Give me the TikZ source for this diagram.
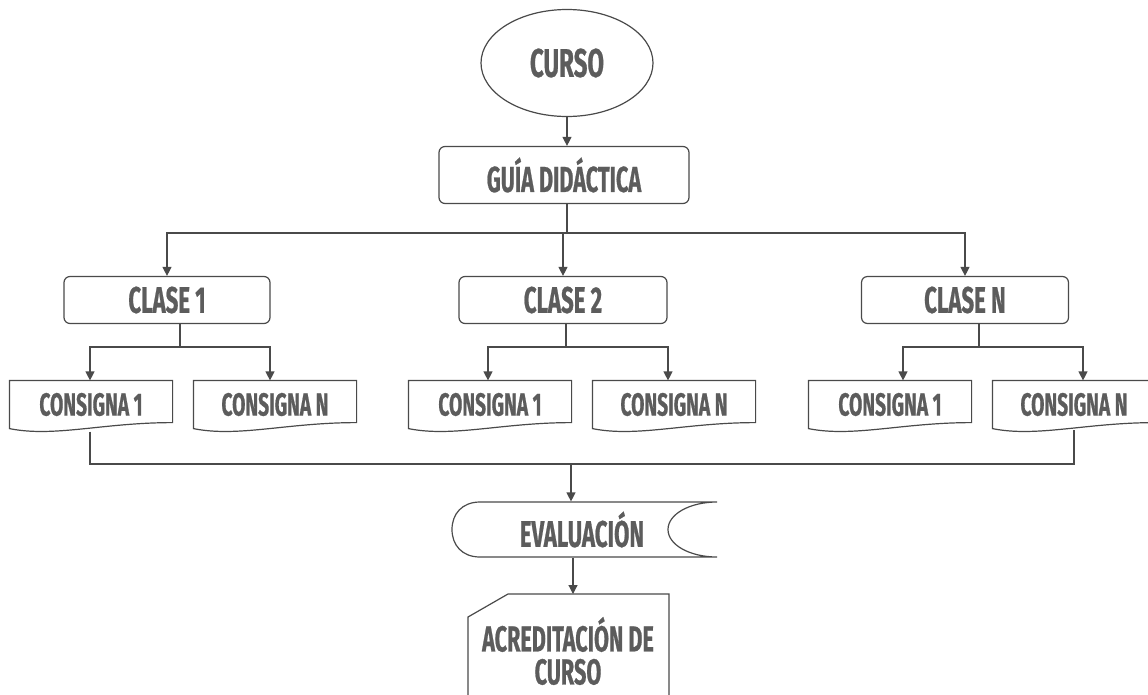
\documentclass[tikz,border=0pt]{standalone}
\usepackage{fontspec}
\newfontfamily\bebas{Fira Sans}[FakeStretch=0.6,FakeBold=0.6]
\usetikzlibrary{shapes.geometric,arrows.meta,calc}
\definecolor{txt}{HTML}{5C5C5C}
\definecolor{ln}{HTML}{4A4A4A}
\begin{document}
\begin{tikzpicture}[x=1pt,y=-1pt,
  line width=1.2pt,
  every node/.style={text=txt,font=\bebas\bfseries},
  conn/.style={draw=ln,line width=1.2pt},
  arr/.style={conn,-{Triangle[length=9pt,width=9pt]}},
  box/.style={draw=ln,rounded corners=6pt,inner sep=0pt},
  doc/.style={inner sep=0pt,minimum width=162pt,minimum height=47pt,font=\bebas\bfseries\fontsize{32}{32}\selectfont},
  outl/.style={draw=ln,line width=1.2pt}]
\clip (0,0) rectangle (1148,694);
\fill[white] (0,0) rectangle (1148,694);
% top
\node[ellipse,draw=ln,minimum width=172pt,minimum height=107pt,inner sep=0pt,font=\bebas\bfseries\fontsize{40}{40}\selectfont] (curso) at (567,63) {CURSO};
\node[box,minimum width=250pt,minimum height=57pt,font=\bebas\bfseries\fontsize{36}{36}\selectfont] (guia) at (564,175) {GUÍA DIDÁCTICA};
% classes
\node[box,minimum width=206pt,minimum height=47pt,font=\bebas\bfseries\fontsize{37}{37}\selectfont] (c1) at (167,300) {CLASE 1};
\node[box,minimum width=208pt,minimum height=47pt,font=\bebas\bfseries\fontsize{37}{37}\selectfont] (c2) at (563,300) {CLASE 2};
\node[box,minimum width=207pt,minimum height=47pt,font=\bebas\bfseries\fontsize{37}{37}\selectfont] (cN) at (965,300) {CLASE N};
% consignas (document shapes)
\node[doc] (k11) at (91,404.5) {CONSIGNA 1};
\node[doc] (k1N) at (275,404.5) {CONSIGNA N};
\node[doc] (k21) at (490,404.5) {CONSIGNA 1};
\node[doc] (k2N) at (674,404.5) {CONSIGNA N};
\node[doc] (k31) at (890,404.5) {CONSIGNA 1};
\node[doc] (k3N) at (1074,404.5) {CONSIGNA N};
\foreach \n in {k11,k1N,k21,k2N,k31,k3N}{
  \draw[outl] (\n.north west) -- (\n.north east) -- ($(\n.south east)+(0,-6)$)
    .. controls ($(\n.south east)+(-70,-6)$) and ($(\n.south west)+(45,9)$) .. (\n.south west) -- cycle;
}
% evaluacion
\node[inner sep=0pt,minimum width=265pt,minimum height=55pt,font=\bebas\bfseries\fontsize{37}{37}\selectfont] (eval) at (582,529.5) {EVALUACIÓN};
\draw[outl] (480,502) -- (717,502)
  .. controls (690,502) and (668,514) .. (668,529.5)
  .. controls (668,545) and (690,557) .. (717,557)
  -- (480,557)
  .. controls (462,557) and (452,545) .. (452,529.5)
  .. controls (452,514) and (462,502) .. (480,502) -- cycle;
% acreditacion
\node[inner sep=0pt,align=center,font=\bebas\bfseries\fontsize{36}{33}\selectfont] (acred) at (568,651) {ACREDITACIÓN DE\\CURSO};
\draw[outl] (468,700) -- (468,617) -- (508,594) -- (669,594) -- (669,700);
\coordinate (acredtop) at (573,594);
% connectors
\coordinate (j0) at (567,233);
\draw[arr] (curso.south -| j0) -- (guia.north -| j0);
\draw[conn] (guia.south -| j0) -- (j0);
\draw[arr] (j0) -| (c1.north);
\draw[arr] (j0) -| (c2.north);
\draw[arr] (j0) -| (cN.north);
% class 1
\coordinate (j1) at (180,347);
\draw[conn] (c1.south -| j1) -- (j1);
\draw[arr] (j1) -| ($(k11.north)+(-1,0)$);
\draw[arr] (j1) -| ($(k1N.north)+(-5,0)$);
% class 2
\coordinate (j2) at (566,347);
\draw[conn] (c2.south -| j2) -- (j2);
\draw[arr] (j2) -| ($(k21.north)+(-2,0)$);
\draw[arr] (j2) -| ($(k2N.north)+(-6,0)$);
% class N
\coordinate (j3) at (979,347);
\draw[conn] (cN.south -| j3) -- (j3);
\draw[arr] (j3) -| ($(k31.north)+(13,0)$);
\draw[arr] (j3) -| ($(k3N.north)+(9,0)$);
% merge
\coordinate (jb) at (571,464);
\draw[conn] ($(k11.south)+(-1,3)$) |- (jb) -| ($(k3N.south)+(0,1)$);
\draw[arr] (jb) -- (eval.north -| jb);
\draw[arr] (eval.south -| acredtop) -- (acredtop);
\end{tikzpicture}
\end{document}
